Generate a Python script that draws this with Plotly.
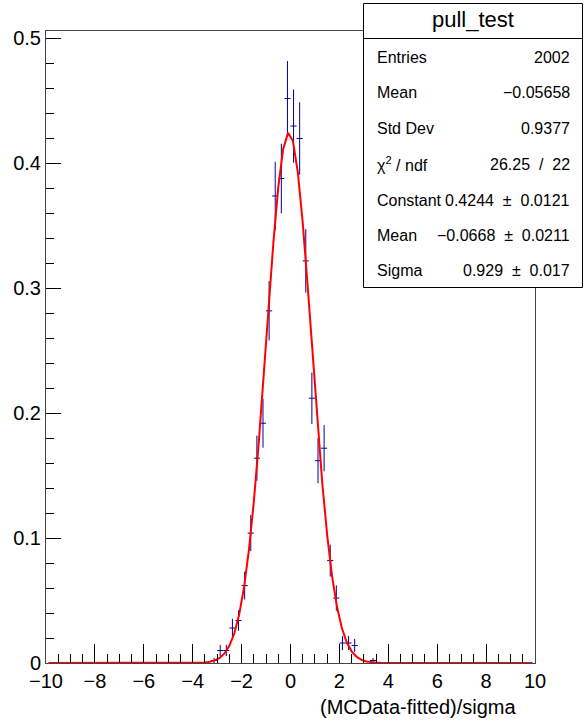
import numpy as np
import plotly.graph_objects as go

# ---- data ----
bin_centers = [-3.125, -2.875, -2.625, -2.375, -2.125, -1.875, -1.625, -1.375, -1.125,
               -0.875, -0.625, -0.375, -0.125, 0.125, 0.375, 0.625, 0.875, 1.125,
               1.375, 1.625, 1.875, 2.125, 2.375, 2.625, 3.375]
bin_counts = [1, 5, 5, 14, 17, 31, 52, 82, 96,
              141, 187, 194, 226, 215, 210, 161, 106, 81,
              86, 41, 26, 8, 8, 7, 1]
entries = 2002
bin_width = 0.25

# fit parameters (from stats box)
fit_constant = 0.4244
fit_mean = -0.0668
fit_sigma = 0.929

x_ticks = [-10, -8, -6, -4, -2, 0, 2, 4, 6, 8, 10]
y_ticks = [0, 0.1, 0.2, 0.3, 0.4, 0.5]

NB = "\u00a0"
stats_labels = ["Entries", "Mean", "Std Dev", "χ<sup>2</sup> / ndf", "Constant", "Mean", "Sigma"]
stats_values = ["2002", "−0.05658", "0.9377",
                "26.25" + NB * 2 + "/" + NB * 2 + "22",
                "0.4244" + NB * 2 + "±" + NB * 2 + "0.0121",
                "−0.0668" + NB * 2 + "±" + NB * 2 + "0.0211",
                "0.929" + NB * 2 + "±" + NB * 2 + "0.017"]
stats_title = "pull_test"

# ---- derived ----
norm = entries * bin_width
yv = np.array(bin_counts) / norm
ey = np.sqrt(np.array(bin_counts)) / norm

# fit function sampled as ROOT does (100 points over the axis range)
xf = np.linspace(-10, 10, 101)[:-1] + 0.1
yf = fit_constant * np.exp(-0.5 * ((xf - fit_mean) / fit_sigma) ** 2)

W, H = 587, 723
L, R, T, B = 46, 535, 31, 663
ymax = 0.5056

fig = go.Figure()
fig.add_trace(go.Scatter(
    x=bin_centers, y=yv, mode="markers",
    marker=dict(size=1, color="#000099", opacity=0),
    error_x=dict(type="constant", value=bin_width / 2, width=0, thickness=1, color="#000099"),
    error_y=dict(type="data", array=ey, width=0, thickness=1, color="#000099"),
    showlegend=False, hoverinfo="skip"))
fig.add_trace(go.Scatter(x=xf, y=yf, mode="lines",
                         line=dict(color="#ff0000", width=2),
                         showlegend=False, hoverinfo="skip"))

font = "Liberation Sans, Arial, Helvetica, sans-serif"

fig.update_layout(
    width=W, height=H,
    margin=dict(l=L, r=W - R, t=T, b=H - B, pad=0),
    paper_bgcolor="white", plot_bgcolor="white",
    font=dict(family=font, color="black", size=20),
)
fig.update_xaxes(
    range=[-10, 10], tickmode="array", tickvals=x_ticks,
    ticks="inside", ticklen=19, tickcolor="black", tickwidth=1,
    minor=dict(dtick=0.5, ticks="inside", ticklen=9, tickcolor="black", tickwidth=1, showgrid=False),
    showgrid=False, zeroline=False, showline=True, linecolor="#444", linewidth=1, mirror=True,
    tickfont=dict(size=20, family=font),
)
fig.update_yaxes(
    range=[0, ymax], tickmode="array", tickvals=y_ticks,
    ticks="inside", ticklen=15, tickcolor="black", tickwidth=1,
    minor=dict(dtick=0.02, ticks="inside", ticklen=8, tickcolor="black", tickwidth=1, showgrid=False),
    showgrid=False, zeroline=False, showline=True, linecolor="#444", linewidth=1, mirror=True,
    tickfont=dict(size=20, family=font),
)

def px_x(p):
    return (p - L) / (R - L)

def px_y(p):
    return (B - p) / (B - T)

# axis title
fig.add_annotation(text="(MCData-fitted)/sigma", xref="paper", yref="paper",
                   x=px_x(518), y=px_y(707), xanchor="right", yanchor="middle",
                   showarrow=False, font=dict(size=20, family=font))

# stats box
bx0, bx1, by0, by1 = 363.5, 582.5, 3.5, 287.5
fig.add_shape(type="rect", xref="paper", yref="paper", layer="above",
              x0=px_x(bx0), x1=px_x(bx1), y0=px_y(by1), y1=px_y(by0),
              fillcolor="white", line=dict(color="black", width=1))
fig.add_shape(type="line", xref="paper", yref="paper", layer="above",
              x0=px_x(bx0), x1=px_x(bx1), y0=px_y(38.5), y1=px_y(38.5),
              line=dict(color="black", width=1))
fig.add_annotation(text=stats_title, xref="paper", yref="paper",
                   x=px_x((bx0 + bx1) / 2), y=px_y(20), xanchor="center", yanchor="middle",
                   showarrow=False, font=dict(size=22, family=font))
row_y = [57, 92.5, 128, 164, 200, 235, 270]
for lab, val, ry in zip(stats_labels, stats_values, row_y):
    fig.add_annotation(text=lab, xref="paper", yref="paper", x=px_x(375), y=px_y(ry),
                       xanchor="left", yanchor="middle", showarrow=False,
                       font=dict(size=16, family=font))
    fig.add_annotation(text=val, xref="paper", yref="paper", x=px_x(572), y=px_y(ry),
                       xanchor="right", yanchor="middle", showarrow=False,
                       font=dict(size=16, family=font))

fig.write_html("out.html")
